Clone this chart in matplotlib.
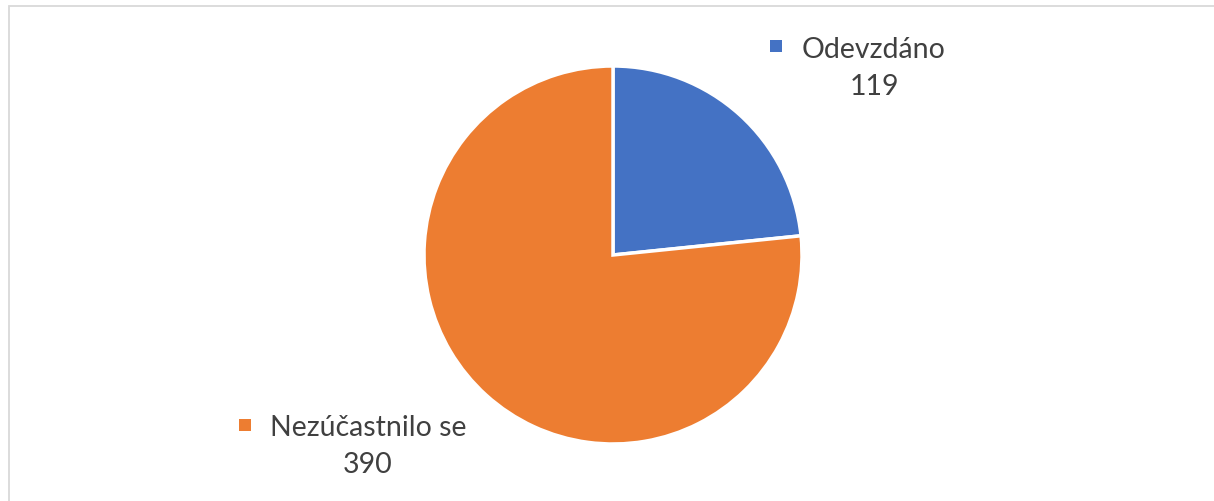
import matplotlib.pyplot as plt
from matplotlib.patches import Rectangle

labels = ["Odevzdáno", "Nezúčastnilo se"]
values = [119, 390]
colors = ["#4472C4", "#ED7D31"]

W, H = 1214, 501
fig = plt.figure(figsize=(W / 100, H / 100), dpi=100)
fig.patch.set_facecolor("white")


def fx(px):
    return px / W


def fy(py):
    return 1 - py / H


# outer chart frame (only top and left edges are visible)
fig.patches.append(Rectangle((fx(8.5), -0.1), 1.2, fy(5.5) + 0.1,
                             transform=fig.transFigure, facecolor="none",
                             edgecolor="#D9D9D9", linewidth=1.3))

cx, cy, r = 613, 255, 189
ax = fig.add_axes([fx(cx - r), fy(cy + r), 2 * r / W, 2 * r / H])
ax.pie(values, colors=colors, startangle=90, counterclock=False,
       wedgeprops=dict(edgecolor="white", linewidth=2.5))
ax.set_xlim(-1, 1)
ax.set_ylim(-1, 1)
ax.axis("off")

# data labels: (square centre, text centre x, line1 y, line2 y)
label_pos = [(776, 46, 874, 50, 87), (245, 425, 368, 428, 465)]
for (sx, sy, tx, y1, y2), lab, val, col in zip(label_pos, labels, values, colors):
    fig.patches.append(Rectangle((fx(sx - 6), fy(sy + 6)), 12 / W, 12 / H,
                                 transform=fig.transFigure, facecolor=col,
                                 edgecolor="none"))
    fig.text(fx(tx), fy(y1), lab, ha="center", va="center", fontsize=20.5,
             family="Lato", color="#404040")
    fig.text(fx(tx), fy(y2), str(val), ha="center", va="center", fontsize=20.5,
             family="Lato", color="#404040")

fig.savefig("out.png", dpi=100)
